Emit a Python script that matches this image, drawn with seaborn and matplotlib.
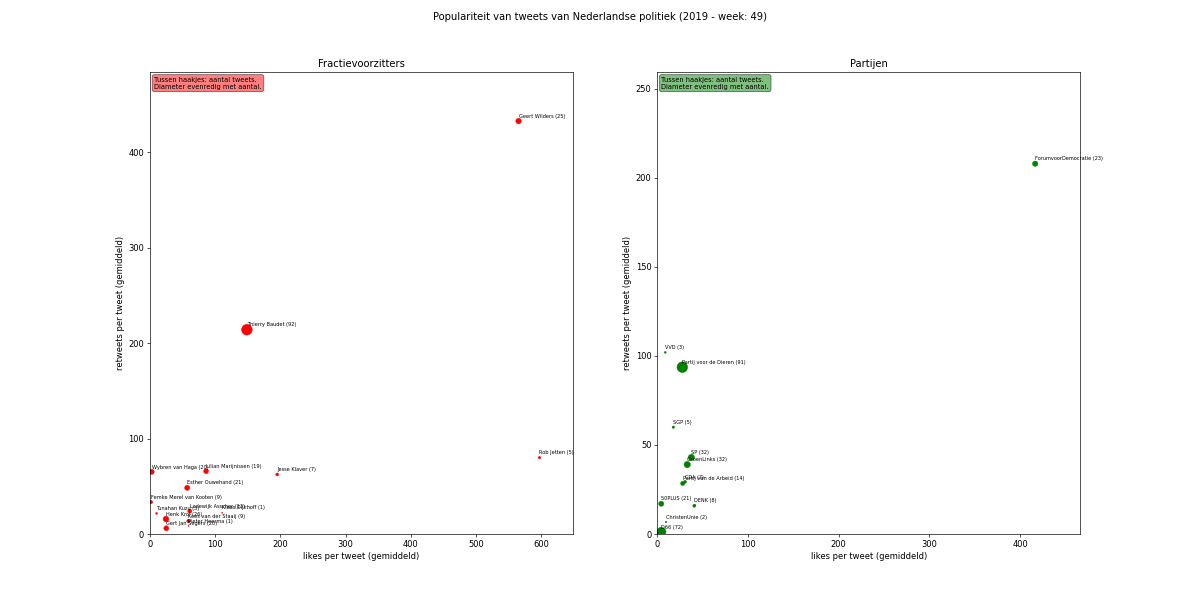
import pandas as pd
import matplotlib
matplotlib.use("Agg")
import matplotlib.pyplot as plt
import seaborn as sns

# fractievoorzitters
namen = ["Geert Wilders", "Thierry Baudet", "Rob Jetten", "Jesse Klaver",
         "Lilian Marijnissen", "Wybren van Haga", "Esther Ouwehand",
         "Femke Merel van Kooten", "Tunahan Kuzu", "Henk Krol",
         "Gert Jan Segers", "Lodewijk Asscher", "Kees van der Staaij",
         "Pieter Heerma", "Klaas Dijkhoff"]
namen_aantal = [25, 92, 5, 7, 19, 20, 21, 9, 3, 26, 20, 13, 9, 1, 1]
namen_likes = [565, 148.5, 597, 195, 86, 2.6, 57, 1.5, 10, 24.5, 25, 61, 59, 59, 110.7]
namen_retweets = [432.6, 214, 80, 62.4, 65.8, 65.1, 48.4, 33.4, 21.6, 15.7, 6, 24, 13.6, 8.4, 22.3]

# partijen
partijen = ["ForumvoorDemocratie", "VVD", "Partij voor de Dieren", "SGP", "SP",
            "GroenLinks", "CDA", "Partij van de Arbeid", "50PLUS", "DENK",
            "ChristenUnie", "D66"]
partijen_aantal = [23, 3, 91, 5, 32, 32, 7, 14, 21, 8, 2, 72]
partijen_likes = [416.6, 8.8, 27.6, 17.7, 37.6, 33, 30.6, 28, 4.4, 40.9, 9.6, 4.4]
partijen_retweets = [208, 102, 93.7, 60, 43, 39, 29.3, 28.4, 17, 15.9, 6.7, 1.1]

df_namen = pd.DataFrame({'naam': namen, 'aantal': namen_aantal,
                         'likes': namen_likes, 'retweets': namen_retweets})
df_partijen = pd.DataFrame({'naam': partijen, 'aantal': partijen_aantal,
                            'likes': partijen_likes, 'retweets': partijen_retweets})

fig, axes = plt.subplots(1, 2, figsize=(20, 10), dpi=60)
fig.suptitle("Populariteit van tweets van Nederlandse politiek (2019 - week: 49)")

panelen = [
    (axes[0], df_namen, 'red', "Fractievoorzitters", (0, 648), (0, 484)),
    (axes[1], df_partijen, 'green', "Partijen", (0, 466), (0, 259.5)),
]

for ax, df, kleur, titel, xlim, ylim in panelen:
    sns.scatterplot(data=df, x='likes', y='retweets', size='aantal',
                    sizes=(0, 180), size_norm=(0, 100), color=kleur,
                    edgecolor=kleur, linewidth=0.5, legend=False, ax=ax)
    for _, row in df.iterrows():
        ax.annotate(f"{row['naam']} ({row['aantal']})", (row['likes'], row['retweets']),
                    textcoords="offset points", xytext=(0, 4), fontsize=6)
    ax.set_xlim(xlim)
    ax.set_ylim(ylim)
    ax.set_title(titel)
    ax.set_xlabel("likes per tweet (gemiddeld)")
    ax.set_ylabel("retweets per tweet (gemiddeld)")
    ax.text(0.01, 0.99, "Tussen haakjes: aantal tweets.\nDiameter evenredig met aantal.",
            transform=ax.transAxes, va='top', fontsize=8,
            bbox=dict(boxstyle='round', facecolor=kleur, alpha=0.5))

plt.savefig("out.png")
